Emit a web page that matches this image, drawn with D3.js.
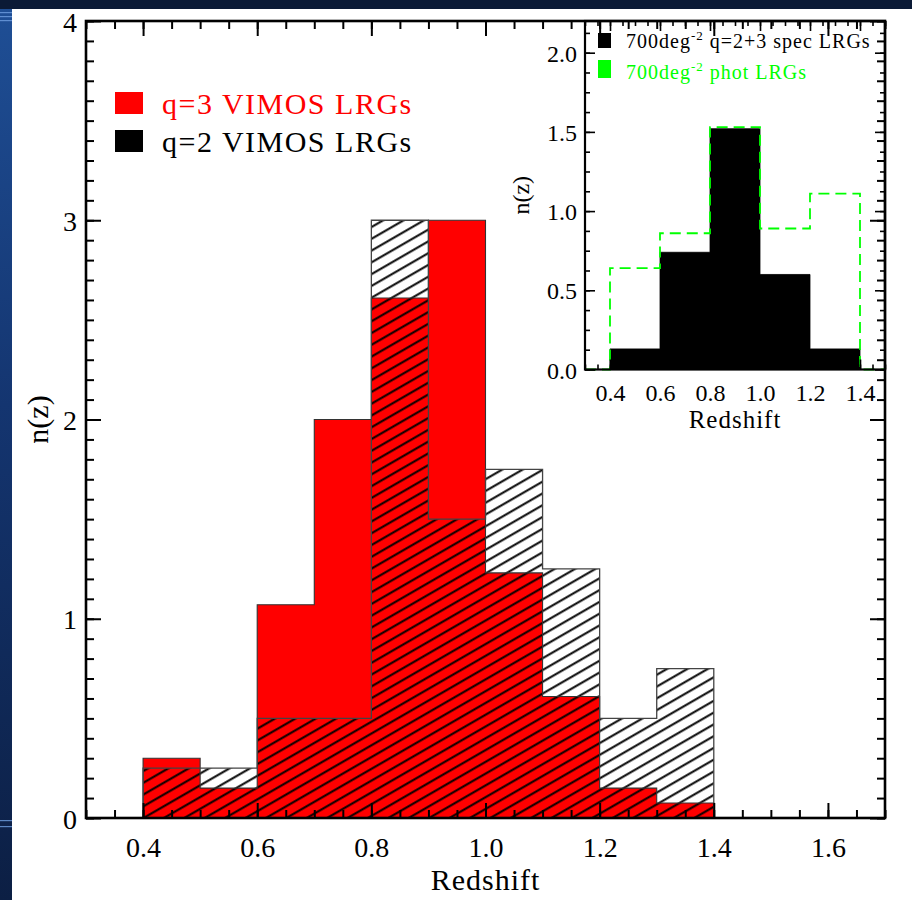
<!DOCTYPE html>
<html>
<head>
<meta charset="utf-8">
<script src="https://cdn.jsdelivr.net/npm/d3@7"></script>
<style>
  html, body { margin: 0; padding: 0; background: #ffffff; }
  svg { display: block; }
  text { font-family: "Liberation Serif", "Times New Roman", serif; }
</style>
</head>
<body>
<svg id="chart" width="912" height="900"></svg>
<script>
// ---------------- DATA ----------------
// Main histogram: bins of width 0.1 (left edges)
const mainBinStart = [0.4, 0.5, 0.6, 0.7, 0.8, 0.9, 1.0, 1.1, 1.2, 1.3];
const mainBinWidth = 0.1;
const q3Values = [0.30, 0.15, 1.07, 2.00, 2.61, 3.00, 1.23, 0.61, 0.15, 0.075]; // red, q=3
const q2Values = [0.25, 0.25, 0.50, 0.50, 3.00, 1.50, 1.75, 1.25, 0.50, 0.75];  // hatched, q=2

// Inset histogram: bins of width 0.2 (left edges)
const insetBinStart = [0.4, 0.6, 0.8, 1.0, 1.2];
const insetBinWidth = 0.2;
const specValues = [0.13, 0.74, 1.52, 0.60, 0.13];   // black, spec LRGs
const photValues = [0.64, 0.86, 1.53, 0.89, 1.11];   // green dashed, phot LRGs

// Tick labels
const mainXTicks = [0.4, 0.6, 0.8, 1.0, 1.2, 1.4, 1.6];
const mainXTickLabels = ["0.4", "0.6", "0.8", "1.0", "1.2", "1.4", "1.6"];
const mainYTicks = [0, 1, 2, 3, 4];
const mainYTickLabels = ["0", "1", "2", "3", "4"];
const insetXTicks = [0.4, 0.6, 0.8, 1.0, 1.2, 1.4];
const insetXTickLabels = ["0.4", "0.6", "0.8", "1.0", "1.2", "1.4"];
const insetYTicks = [0.0, 0.5, 1.0, 1.5, 2.0];
const insetYTickLabels = ["0.0", "0.5", "1.0", "1.5", "2.0"];

// Legend texts
const mainLegend = [
  { label: "q=3 VIMOS LRGs", color: "#ff0000", textColor: "#ff0000" },
  { label: "q=2 VIMOS LRGs", color: "#000000", textColor: "#000000" }
];
const insetLegend = [
  { pre: "700deg", sup: "-2", post: " q=2+3 spec LRGs", color: "#000000" },
  { pre: "700deg", sup: "-2", post: " phot LRGs", color: "#00ff00" }
];

// ---------------- DRAW ----------------
const svg = d3.select("#chart");
const W = 912, H = 900;

const defs = svg.append("defs");
const bgGrad = defs.append("linearGradient").attr("id", "bgLeft")
  .attr("x1", 0).attr("y1", 0).attr("x2", 0).attr("y2", 1);
bgGrad.append("stop").attr("offset", "0%").attr("stop-color", "#1f4f96");
bgGrad.append("stop").attr("offset", "45%").attr("stop-color", "#143570");
bgGrad.append("stop").attr("offset", "100%").attr("stop-color", "#0c1f44");

const hatch = defs.append("pattern").attr("id", "hatch")
  .attr("patternUnits", "userSpaceOnUse")
  .attr("width", 20).attr("height", 10.2)
  .attr("patternTransform", "rotate(-30)");
hatch.append("line").attr("x1", -2).attr("x2", 22).attr("y1", 5).attr("y2", 5)
  .attr("stroke", "#000").attr("stroke-width", 2);

// page background (slide)
svg.append("rect").attr("x", 0).attr("y", 0).attr("width", W).attr("height", H).attr("fill", "#ffffff");
svg.append("rect").attr("x", 0).attr("y", 0).attr("width", 12).attr("height", H).attr("fill", "url(#bgLeft)");
svg.append("rect").attr("x", 0).attr("y", 0).attr("width", W).attr("height", 9).attr("fill", "#0b1a36");
[12, 16, 20, 820, 826].forEach(yy => {
  svg.append("rect").attr("x", 0).attr("y", yy).attr("width", 12).attr("height", 1.2)
    .attr("fill", "#6f9fe0").attr("opacity", 0.8);
});

// ---------- main plot ----------
const mx = d3.scaleLinear().domain([0.3, 1.7]).range([86, 885]);
const my = d3.scaleLinear().domain([0, 4]).range([818, 21]);

const gMain = svg.append("g");

function stepPoints(starts, width, vals) {
  const pts = [[starts[0], 0]];
  starts.forEach((s, i) => { pts.push([s, vals[i]]); pts.push([s + width, vals[i]]); });
  pts.push([starts[starts.length - 1] + width, 0]);
  return pts;
}
const mainLine = d3.line().x(p => mx(p[0])).y(p => my(p[1]));
const mainArea = d3.area().x(p => mx(p[0])).y0(my(0)).y1(p => my(p[1]));

const q3Pts = stepPoints(mainBinStart, mainBinWidth, q3Values);
const q2Pts = stepPoints(mainBinStart, mainBinWidth, q2Values);

// red q=3 histogram fill
gMain.append("path").attr("d", mainArea(q3Pts)).attr("fill", "#ff0000");
// hatched q=2 histogram fill
gMain.append("path").attr("d", mainArea(q2Pts)).attr("fill", "url(#hatch)");
// step outlines
gMain.append("path").attr("d", mainLine(q3Pts))
  .attr("fill", "none").attr("stroke", "#333").attr("stroke-width", 1.1);
gMain.append("path").attr("d", mainLine(q2Pts))
  .attr("fill", "none").attr("stroke", "#444").attr("stroke-width", 1.3);

function boxAxes(g, xs, ys, opts) {
  const [x0, x1] = xs.range();
  const [y0, y1] = ys.range(); // y0 bottom, y1 top
  const xd = xs.domain(), yd = ys.domain();
  const minorX = d3.range(Math.round(xd[0] / opts.xMinor), Math.round(xd[1] / opts.xMinor) + 1)
    .map(k => +(k * opts.xMinor).toFixed(4));
  const minorY = d3.range(Math.round(yd[0] / opts.yMinor), Math.floor(yd[1] / opts.yMinor + 1e-6) + 1)
    .map(k => +(k * opts.yMinor).toFixed(4));

  const mk = (gen, tr) => {
    const a = g.append("g").attr("transform", tr).call(gen);
    a.select(".domain").remove();
    a.selectAll("line").attr("stroke", "#000").attr("stroke-width", opts.tickW);
    return a;
  };
  // minor ticks on all sides
  mk(d3.axisBottom(xs).tickValues(minorX).tickSize(-opts.minorLen).tickFormat(""), `translate(0,${y0})`);
  mk(d3.axisTop(xs).tickValues(minorX).tickSize(-opts.minorLen).tickFormat(""), `translate(0,${y1})`);
  mk(d3.axisLeft(ys).tickValues(minorY).tickSize(-opts.minorLen).tickFormat(""), `translate(${x0},0)`);
  mk(d3.axisRight(ys).tickValues(minorY).tickSize(-opts.minorLen).tickFormat(""), `translate(${x1},0)`);
  // major ticks
  const bx = mk(d3.axisBottom(xs).tickValues(opts.xTicks).tickSize(-opts.majorLen)
      .tickPadding(opts.xPad).tickFormat((d, i) => opts.xLabels[i]), `translate(0,${y0})`);
  bx.selectAll("text").attr("dy", 0).attr("fill", "#000")
    .style("font-size", opts.font + "px").style("font-family", "Liberation Serif, serif");
  mk(d3.axisTop(xs).tickValues(opts.xTicks).tickSize(-opts.majorLen).tickFormat(""), `translate(0,${y1})`);
  const by = mk(d3.axisLeft(ys).tickValues(opts.yTicks).tickSize(-opts.majorLen)
      .tickPadding(opts.yPad).tickFormat((d, i) => opts.yLabels[i]), `translate(${x0},0)`);
  by.selectAll("text").attr("dy", opts.yDy).attr("fill", "#000")
    .style("font-size", opts.font + "px").style("font-family", "Liberation Serif, serif");
  mk(d3.axisRight(ys).tickValues(opts.yTicks).tickSize(-opts.majorLen).tickFormat(""), `translate(${x1},0)`);
  // frame
  g.append("rect").attr("x", x0).attr("y", y1).attr("width", x1 - x0).attr("height", y0 - y1)
    .attr("fill", "none").attr("stroke", "#000").attr("stroke-width", opts.frameW);
}

boxAxes(gMain, mx, my, {
  xMinor: 0.05, yMinor: 0.1, minorLen: 8, majorLen: 15, tickW: 2, frameW: 2.6,
  xTicks: mainXTicks, xLabels: mainXTickLabels, yTicks: mainYTicks, yLabels: mainYTickLabels,
  font: 28, xPad: 39, yPad: 9, yDy: "0.36em"
});

// main axis titles
gMain.append("text").attr("x", (mx.range()[0] + mx.range()[1]) / 2).attr("y", 890)
  .attr("text-anchor", "middle").style("font-size", "30px").style("letter-spacing", "1px")
  .text("Redshift");
gMain.append("text").attr("transform", `translate(48,${(my.range()[0] + my.range()[1]) / 2}) rotate(-90)`)
  .attr("text-anchor", "middle").style("font-size", "30px")
  .text("n(z)");

// main legend
const legY = [92, 130];
mainLegend.forEach((d, i) => {
  gMain.append("rect").attr("x", 115).attr("y", legY[i]).attr("width", 28).attr("height", 22)
    .attr("fill", d.color);
  gMain.append("text").attr("x", 162).attr("y", legY[i] + 21.5)
    .attr("fill", d.textColor).style("font-size", "30px").style("letter-spacing", "1.5px")
    .text(d.label);
});

// ---------- inset ----------
const ix = d3.scaleLinear().domain([0.3, 1.5]).range([585, 885]);
const iy = d3.scaleLinear().domain([0, 2.2]).range([369.5, 21]);
const gIn = svg.append("g");

const specPts = stepPoints(insetBinStart, insetBinWidth, specValues);
gIn.append("path")
  .attr("d", d3.area().x(p => ix(p[0])).y0(iy(0)).y1(p => iy(p[1]))(specPts))
  .attr("fill", "#000").attr("stroke", "#000").attr("stroke-width", 0.8);

// green dashed step line
const photPts = [[ix.domain()[0], 0]].concat(stepPoints(insetBinStart, insetBinWidth, photValues));
photPts.push([ix.domain()[1], 0]);
gIn.append("path")
  .attr("d", d3.line().x(p => ix(p[0])).y(p => iy(p[1]))(photPts))
  .attr("fill", "none").attr("stroke", "#00ff00").attr("stroke-width", 1.8)
  .attr("stroke-dasharray", "11,6");

boxAxes(gIn, ix, iy, {
  xMinor: 0.05, yMinor: 0.125, minorLen: 5, majorLen: 10, tickW: 1.6, frameW: 2.2,
  xTicks: insetXTicks, xLabels: insetXTickLabels, yTicks: insetYTicks, yLabels: insetYTickLabels,
  font: 24, xPad: 31, yPad: 8, yDy: "0.36em"
});

gIn.append("text").attr("x", (ix.range()[0] + ix.range()[1]) / 2).attr("y", 428)
  .attr("text-anchor", "middle").style("font-size", "25px").style("letter-spacing", "1px")
  .text("Redshift");
gIn.append("text").attr("transform", `translate(529,${(iy.range()[0] + iy.range()[1]) / 2}) rotate(-90)`)
  .attr("text-anchor", "middle").style("font-size", "24px")
  .text("n(z)");

// inset legend
const inLegY = [33, 60];
const inLegH = [15, 18];
insetLegend.forEach((d, i) => {
  gIn.append("rect").attr("x", 598).attr("y", inLegY[i]).attr("width", 13).attr("height", inLegH[i])
    .attr("fill", d.color);
  const t = gIn.append("text").attr("x", 626).attr("y", i === 0 ? 48 : 79)
    .attr("fill", d.color).style("font-size", "20px").style("letter-spacing", "1px");
  t.append("tspan").text(d.pre);
  t.append("tspan").attr("dy", -8).style("font-size", "13px").text(d.sup);
  t.append("tspan").attr("dy", 8).text(d.post);
});
</script>
</body>
</html>
